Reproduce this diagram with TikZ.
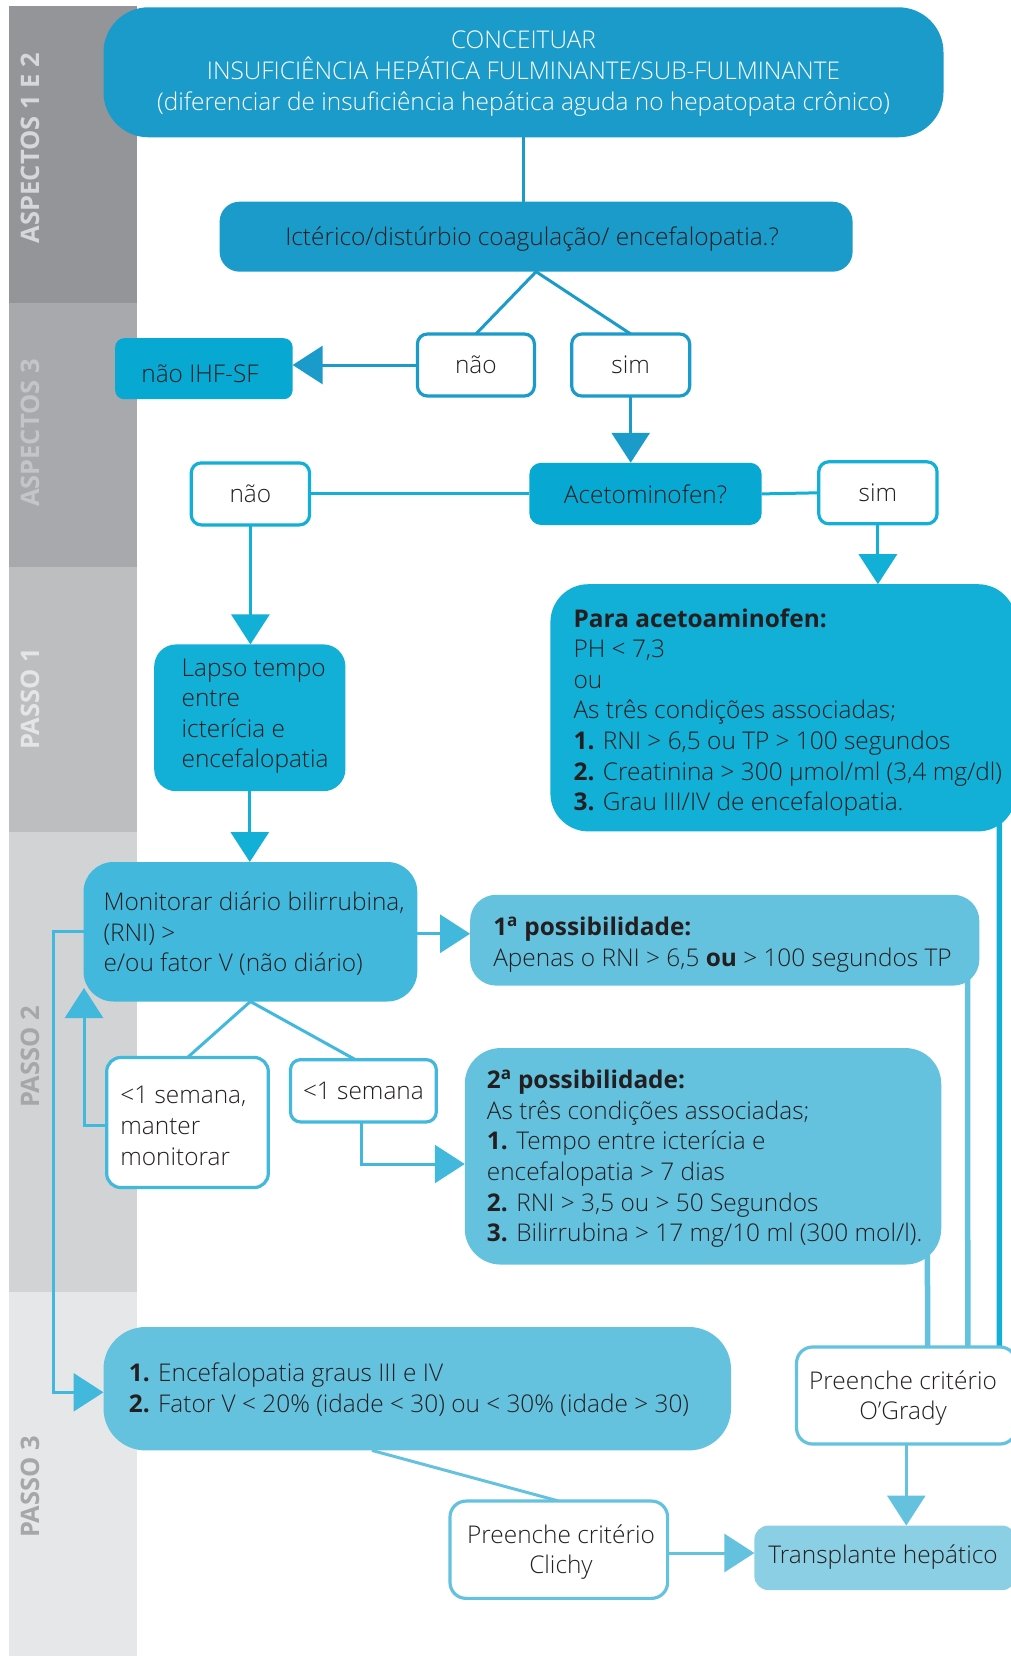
\documentclass[tikz,border=0pt]{standalone}
\usepackage{fontspec}
\IfFontExistsTF{Open Sans Light}{\setmainfont{Open Sans Light}[BoldFont={Open Sans Bold}]}{\setmainfont{Open Sans}}
\usetikzlibrary{arrows.meta,calc}
\definecolor{cA}{HTML}{1A9BCA}
\definecolor{cB}{HTML}{07A8D2}
\definecolor{cC}{HTML}{12AFD6}
\definecolor{cD}{HTML}{42B9DC}
\definecolor{cE}{HTML}{65C2DF}
\definecolor{cF}{HTML}{8BCFE4}
\definecolor{txt}{HTML}{231F20}
\definecolor{gA}{HTML}{939598}
\definecolor{gB}{HTML}{A7A9AC}
\definecolor{gC}{HTML}{BCBEC0}
\definecolor{gD}{HTML}{D1D3D4}
\definecolor{gE}{HTML}{E6E7E8}
\definecolor{tA}{HTML}{D6D7D9}
\definecolor{tB}{HTML}{C4C5C8}
\definecolor{tC}{HTML}{E4E5E6}
\definecolor{tD}{HTML}{A5A7AA}
\pgfdeclarelayer{back}
\pgfdeclarelayer{bg}
\pgfsetlayers{back,bg,main}
\begin{document}
\begin{tikzpicture}[x=1pt,y=-1pt,
  every node/.style={inner sep=0pt, outer sep=0pt, text=txt, font=\fontsize{24.4}{30.6}\selectfont},
  wbox/.style={rectangle, fill=white, line width=3.2pt, rounded corners=10pt, align=center},
  cbox/.style={rectangle, align=center},
  lbl/.style={anchor=west, align=left},
  ln/.style={line width=3pt},
  rl/.style={line width=5.5pt},
  arr/.style={line width=3pt, -{Triangle[length=30pt,width=38pt]}},
  bandlbl/.style={rotate=90, font=\bfseries\fontsize{25.5}{26}\selectfont}]
\useasboundingbox (0,0) rectangle (1011,1656);
\clip (0,0) rectangle (1011,1656);

% side bands
\begin{pgfonlayer}{back}
\fill[gA] (8.5,6) rectangle (137,303);
\fill[gB] (8.5,303) rectangle (137,567);
\fill[gC] (8.5,567) rectangle (137,832);
\fill[gD] (8.5,832) rectangle (137,1292);
\fill[gE] (8.5,1292) rectangle (137,1656);
\end{pgfonlayer}
\node[bandlbl, text=tA] (b1) at (30,148) {ASPECTOS 1 E 2};
\node[bandlbl, text=tB] (b2) at (30,433) {ASPECTOS 3};
\node[bandlbl, text=tC] (b3) at (30,699) {PASSO 1};
\node[bandlbl, text=tD] (b4) at (30,1057) {PASSO 2};
\node[bandlbl, text=tD] (b5) at (30,1487) {PASSO 3};

% boxes
\node[cbox, fill=cA, rounded corners=45pt, minimum width=840pt, minimum height=130pt] (top) at (523.5,72.3) {};
\node[align=center, text=white] (topT) at (523.5,73.5) {CONCEITUAR\\INSUFICIÊNCIA HEPÁTICA FULMINANTE/SUB-FULMINANTE\\(diferenciar de insuficiência hepática aguda no hepatopata crônico)};
\node[cbox, fill=cA, rounded corners=20pt, minimum width=633pt, minimum height=70pt] (ict) at (536.1,236.7) {};
\node (ictT) at (532,238.7) {Ictérico/distúrbio coagulação/ encefalopatia.?};

\node[wbox, draw=cA, minimum width=117pt, minimum height=62pt] (nao1) at (475.9,365) {não};
\node[wbox, draw=cA, minimum width=118pt, minimum height=62pt] (sim1) at (630.7,365) {sim};
\node[cbox, fill=cB, rounded corners=9pt, minimum width=177.5pt, minimum height=61pt] (naoihf) at (203.9,368.7) {};
\node (naoihfT) at (200,374) {não IHF-SF};

\node[cbox, fill=cB, rounded corners=12pt, minimum width=232.4pt, minimum height=62.3pt] (aceto) at (645.5,493.9) {Acetominofen?};
\node[wbox, draw=cC, minimum width=118.3pt, minimum height=62pt] (nao2) at (250.4,493.9) {não};
\node[wbox, draw=cC, minimum width=118.3pt, minimum height=62pt] (sim2) at (877.9,492.8) {sim};

\node[cbox, fill=cC, rounded corners=38pt, minimum width=465.6pt, minimum height=247.2pt] (para) at (783.2,707.8) {};
\node[lbl] (paraT) at ($(para.west)+(23.2,4.6)$) {\textbf{Para acetoaminofen:}\\PH < 7,3\\ou\\As três condições associadas;\\\textbf{1.} RNI > 6,5 ou TP > 100 segundos\\\textbf{2.} Creatinina > 300 µmol/ml (3,4 mg/dl)\\\textbf{3.} Grau III/IV de encefalopatia.};

\node[cbox, fill=cC, rounded corners=22pt, minimum width=191.2pt, minimum height=146.8pt] (lapso) at (249.8,717.8) {};
\node[lbl] (lapsoT) at ($(lapso.west)+(27.5,-1.5)$) {Lapso tempo\\entre\\icterícia e\\encefalopatia};

\node[cbox, fill=cD, rounded corners=30pt, minimum width=333.8pt, minimum height=139.5pt] (mon) at (250.4,931.75) {};
\node[lbl] (monT) at ($(mon.west)+(20,2)$) {Monitorar diário bilirrubina,\\(RNI) >\\e/ou fator V (não diário)};

\node[cbox, fill=cE, rounded corners=26pt, minimum width=509.2pt, minimum height=90.8pt] (poss1) at (724.7,940.2) {};
\node[lbl] (poss1T) at ($(poss1.west)+(23.2,4.5)$) {\textbf{1\textsuperscript{a} possibilidade:}\\Apenas o RNI > 6,5 \textbf{ou} > 100 segundos TP};

\node[wbox, draw=cD, rounded corners=14pt, minimum width=161.6pt, minimum height=130pt] (semA) at (187.5,1122.5) {};
\node[lbl] (semAT) at ($(semA.west)+(13.7,3.3)$) {<1 semana,\\manter\\monitorar};
\node[wbox, draw=cD, minimum width=145.8pt, minimum height=62.3pt] (semB) at (363.4,1090.8) {<1 semana};

\node[cbox, fill=cE, rounded corners=36pt, minimum width=476.5pt, minimum height=216.5pt] (poss2) at (703,1156.3) {};
\node[lbl] (poss2T) at ($(poss2.west)+(22.2,2.5)$) {\textbf{2\textsuperscript{a} possibilidade:}\\As três condições associadas;\\\textbf{1.} Tempo entre icterícia e\\encefalopatia > 7 dias\\\textbf{2.} RNI > 3,5 ou > 50 Segundos\\\textbf{3.} Bilirrubina > 17 mg/10 ml (300 mol/l).};

\node[cbox, fill=cE, rounded corners=42pt, minimum width=627.5pt, minimum height=123.4pt] (enc) at (417.25,1388.7) {};
\node[lbl] (encT) at ($(enc.west)+(25.4,1)$) {\textbf{1.} Encefalopatia graus III e IV\\\textbf{2.} Fator V < 20\% (idade < 30) ou < 30\% (idade > 30)};

\node[wbox, draw=cE, rounded corners=16pt, minimum width=219.5pt, minimum height=97pt] (ogr) at (906.3,1395.5) {};
\node[align=center] (ogrT) at (903,1398) {Preenche critério\\O’Grady};
\node[wbox, draw=cE, rounded corners=16pt, minimum width=217.6pt, minimum height=97.3pt] (clichy) at (558.8,1549.7) {};
\node[align=center] (clichyT) at (561,1552.2) {Preenche critério\\Clichy};
\node[cbox, fill=cF, rounded corners=14pt, minimum width=261.7pt, minimum height=64.5pt] (trans) at (885.2,1557.8) {};
\node (transT) at (883,1557) {Transplante hepático};

% connectors
\begin{pgfonlayer}{bg}
\draw[ln, cA] (top.south) -- (top.south |- ict.north);
\draw[ln, cA] (ict.south) -- (nao1.north);
\draw[ln, cA] (ict.south) -- (sim1.north);
\draw[arr, cA] (nao1.west) -- (nao1.west -| naoihf.east);
\draw[arr, cA] (sim1.south) -- (sim1.south |- aceto.north);
\draw[ln, cC] (nao2.east) -- (aceto.west);
\draw[ln, cC] (aceto.east) -- (sim2.west);
\draw[arr, cC] (sim2.south) -- (sim2.south |- para.north);
\draw[arr, cC] (nao2.south) -- (nao2.south |- lapso.north);
\draw[arr, cC] (lapso.south) -- (lapso.south |- mon.north);
\draw[arr, cD] ($(mon.east)+(0,2)$) -- ($(mon.east -| poss1.west)+(0,2)$);
\draw[ln, cD] (mon.south) -- (semA.north);
\draw[ln, cD] (mon.south) -- ($(semB.north)+(-8,0)$);
\coordinate (fbtip) at (84,988);
\draw[arr, cD] ($(semA.west)+(0,2.5)$) -| (fbtip);
\draw[arr, cD] (mon.west) -- ++(-29.6,0) |- ($(enc.west)+(0,3.6)$);
\draw[arr, cD] ($(semB.south)+(-2,0)$) |- ($(poss2.west)+(0,7.7)$);
\draw[ln, cE] ($(enc.south)+(-45.3,0)$) -- (clichy.north);
\draw[arr, cE] ($(clichy.east)+(0,3.3)$) -- ($(clichy.east -| trans.west)+(0,3.3)$);
\draw[arr, cE] (ogr.south) -- (ogr.south |- trans.north);
\draw[rl, cE] ($(poss2.south east)+(-13.8,-14)$) -- ($(ogr.north west)+(131,0)$);
\draw[rl, cE] ($(poss1.south east)+(-11.6,-10)$) -- ($(ogr.north west)+(171.2,0)$);
\draw[rl, cC] ($(para.south east)+(-16.6,-16)$) -- ($(ogr.north west)+(202.9,0)$);
\end{pgfonlayer}
\end{tikzpicture}
\end{document}
